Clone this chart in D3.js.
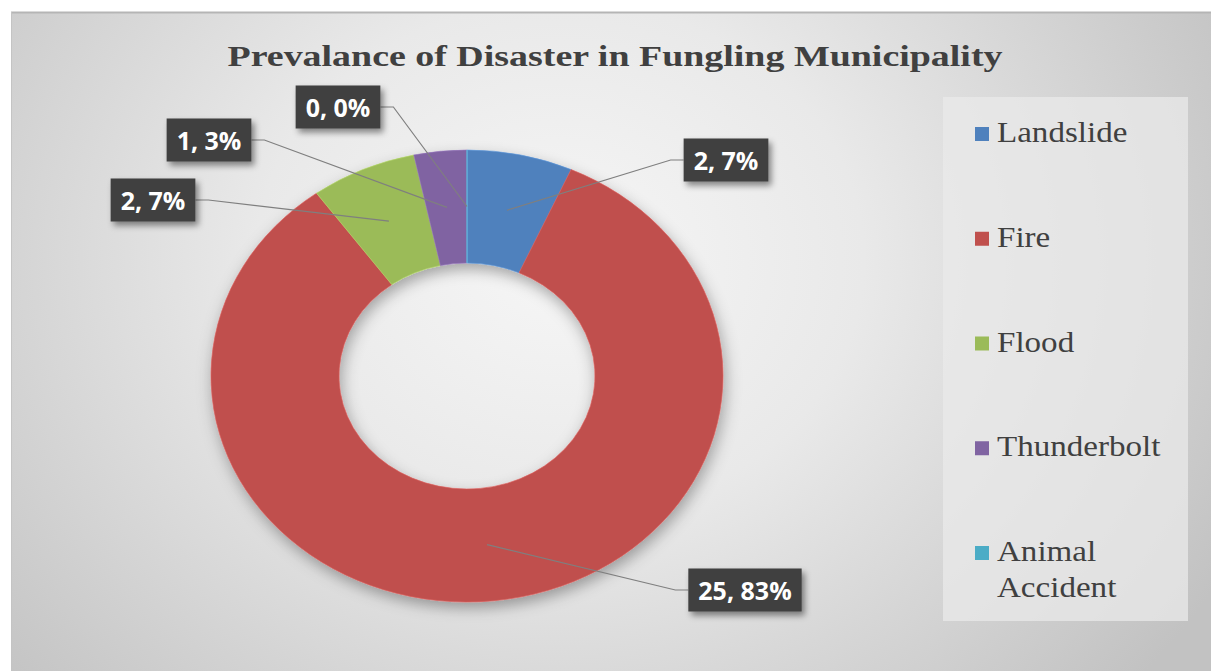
<!DOCTYPE html>
<html>
<head>
<meta charset="utf-8">
<script src="https://cdn.jsdelivr.net/npm/d3@7"></script>
<style>
  html, body { margin: 0; padding: 0; background: #ffffff; }
  svg { display: block; }
</style>
</head>
<body>
<svg id="chart" width="1211" height="671"></svg>
<script>
// Disaster occurrences in Fungling Municipality
const categories = ["Landslide", "Fire", "Flood", "Thunderbolt", "Animal Accident"];
const values = [2, 25, 2, 1, 0];
const colors = ["#4f81bd", "#c0504d", "#9bbb59", "#8064a2", "#4bacc6"];
const legendLines = [["Landslide"], ["Fire"], ["Flood"], ["Thunderbolt"], ["Animal", "Accident"]];
const chartTitle = "Prevalance of Disaster in Fungling Municipality";

// Where each data label box sits (box centres), one per category
const labelPlacement = [[726, 160], [745, 590], [153, 200], [209, 140], [338, 107]];

const W = 1211, H = 671;
const cx = 467, cy = 376;
const R = 226;           // vertical outer radius
const sx = 256 / 226;    // horizontal stretch of the plot
const hole = 0.5;

const svg = d3.select("#chart");
const defs = svg.append("defs");

const bg = defs.append("radialGradient").attr("id", "bgGrad")
  .attr("gradientUnits", "userSpaceOnUse")
  .attr("cx", 560).attr("cy", 260).attr("r", 760)
  .attr("gradientTransform", "translate(560,260) scale(1,0.85) translate(-560,-260)");
bg.append("stop").attr("offset", "0%").attr("stop-color", "#f6f6f6");
bg.append("stop").attr("offset", "40%").attr("stop-color", "#e9e9e9");
bg.append("stop").attr("offset", "100%").attr("stop-color", "#c2c2c2");

const shadow = defs.append("filter").attr("id", "ringShadow")
  .attr("x", "-20%").attr("y", "-20%").attr("width", "140%").attr("height", "140%");
shadow.append("feDropShadow").attr("dx", 2).attr("dy", 6).attr("stdDeviation", 7)
  .attr("flood-color", "#000").attr("flood-opacity", 0.32);

const boxShadow = defs.append("filter").attr("id", "boxShadow")
  .attr("x", "-20%").attr("y", "-30%").attr("width", "150%").attr("height", "170%");
boxShadow.append("feDropShadow").attr("dx", 3).attr("dy", 4).attr("stdDeviation", 3)
  .attr("flood-color", "#000").attr("flood-opacity", 0.45);

// chart area
svg.append("rect").attr("x", 11).attr("y", 12).attr("width", W - 11).attr("height", H - 12)
  .attr("fill", "url(#bgGrad)");
svg.append("line").attr("x1", 11).attr("x2", W).attr("y1", 12.5).attr("y2", 12.5)
  .attr("stroke", "#b5b5b5").attr("stroke-width", 2);
svg.append("line").attr("x1", 11.5).attr("x2", 11.5).attr("y1", 12).attr("y2", H)
  .attr("stroke", "#c4c4c4").attr("stroke-width", 1);

function stretch(sel, k) {
  sel.each(function () {
    const w = this.getComputedTextLength();
    d3.select(this).attr("textLength", w * k).attr("lengthAdjust", "spacingAndGlyphs");
  });
}

// title
const title = svg.append("text")
  .attr("x", 615).attr("y", 66)
  .attr("text-anchor", "middle")
  .attr("font-family", "'Liberation Serif', 'Times New Roman', serif")
  .attr("font-weight", "bold")
  .attr("font-size", 29)
  .attr("fill", "#404040")
  .text(chartTitle);
title.attr("textLength", 775).attr("lengthAdjust", "spacingAndGlyphs");

// doughnut
const data = categories.map((c, i) => ({ name: c, value: values[i], color: colors[i] }));
const total = d3.sum(values);
const pie = d3.pie().value(d => d.value).sort(null);
const arcs = pie(data);
const arc = d3.arc().innerRadius(R * hole).outerRadius(R);
const anchorArc = d3.arc().innerRadius(R * 0.75).outerRadius(R * 0.75);

const ring = svg.append("g")
  .attr("transform", `translate(${cx},${cy}) scale(${sx},1)`)
  .attr("filter", "url(#ringShadow)");
ring.selectAll("path").data(arcs).join("path")
  .attr("d", arc)
  .attr("fill", d => d.data.color)
  .attr("stroke", d => d3.color(d.data.color).brighter(0.4))
  .attr("stroke-width", 0.6);

// data labels with leader lines
const pct = v => Math.round(v / total * 100) + "%";
const labels = svg.append("g");
arcs.forEach((d, i) => {
  const [ax, ay] = anchorArc.centroid(d);
  const anchor = [cx + ax * sx, cy + ay];
  const [bx, by] = labelPlacement[i];

  const g = labels.append("g");
  const t = g.append("text")
    .attr("x", bx).attr("y", by)
    .attr("text-anchor", "middle")
    .attr("dominant-baseline", "central")
    .attr("font-family", "'Open Sans', 'Liberation Sans', sans-serif")
    .attr("font-weight", 700)
    .attr("font-size", 25)
    .attr("fill", "#ffffff")
    .text(`${d.data.value}, ${pct(d.data.value)}`);
  const tw = t.node().getComputedTextLength();
  const bw = tw + 20, bh = 43;
  const left = bx - bw / 2, right = bx + bw / 2;
  const onRight = bx > anchor[0];
  const edgeX = onRight ? left : right;
  const elbowX = onRight ? edgeX - 13 : edgeX + 13;

  labels.insert("path", ":first-child")
    .attr("d", d3.line()([anchor, [elbowX, by], [edgeX, by]]))
    .attr("fill", "none")
    .attr("stroke", "#7f7f7f")
    .attr("stroke-width", 1.2);

  g.insert("rect", "text")
    .attr("x", left).attr("y", by - bh / 2)
    .attr("width", bw).attr("height", bh)
    .attr("fill", "#3f3f3f")
    .attr("filter", "url(#boxShadow)");
});

// legend
const legend = svg.append("g");
legend.append("rect")
  .attr("x", 943).attr("y", 97).attr("width", 245).attr("height", 524)
  .attr("fill", "#e9e9e9").attr("fill-opacity", 0.75);

const legendY = d3.scaleLinear().domain([0, categories.length - 1]).range([142, 561]);
categories.forEach((c, i) => {
  const y = legendY(i);
  legend.append("rect")
    .attr("x", 975).attr("y", y - 15).attr("width", 14).attr("height", 14)
    .attr("fill", colors[i]);
  legendLines[i].forEach((line, j) => {
    const t = legend.append("text")
      .attr("x", 997).attr("y", y + j * 36)
      .attr("font-family", "'Liberation Serif', 'Times New Roman', serif")
      .attr("font-size", 29)
      .attr("fill", "#404040")
      .text(line);
    stretch(t, 1.14);
  });
});
</script>
</body>
</html>
